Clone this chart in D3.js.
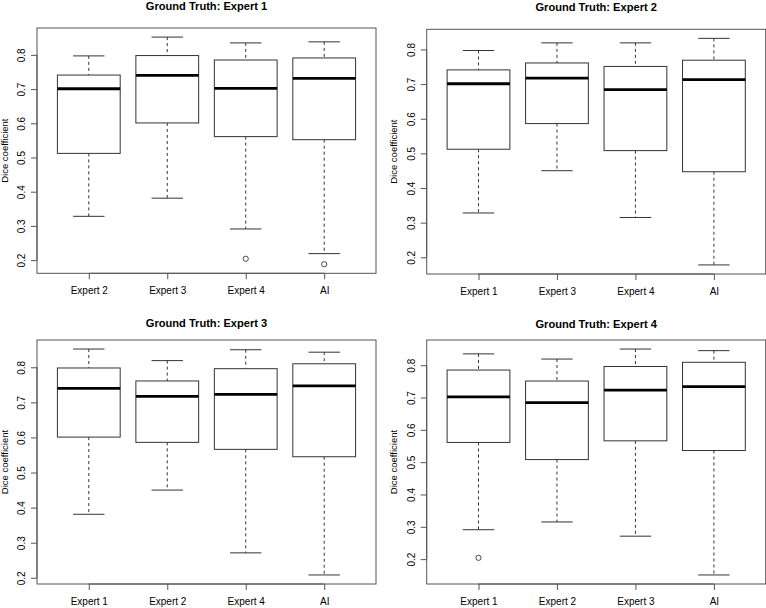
<!DOCTYPE html>
<html>
<head>
<meta charset="utf-8">
<script src="https://cdn.jsdelivr.net/npm/d3@7"></script>
<style>
  html, body { margin: 0; padding: 0; background: #fff; }
  svg { display: block; }
  text { font-family: "Liberation Sans", Arial, Helvetica, sans-serif; fill: #000; }
</style>
</head>
<body>
<svg id="chart" width="766" height="608"></svg>
<script>
// ---------- DATA ----------
const panelTitles = [
  "Ground Truth: Expert 1",
  "Ground Truth: Expert 2",
  "Ground Truth: Expert 3",
  "Ground Truth: Expert 4"
];
const categories = [
  ["Expert 2", "Expert 3", "Expert 4", "AI"],
  ["Expert 1", "Expert 3", "Expert 4", "AI"],
  ["Expert 1", "Expert 2", "Expert 4", "AI"],
  ["Expert 1", "Expert 2", "Expert 3", "AI"]
];
const whiskerHigh = [
  [0.797, 0.852, 0.835, 0.838],
  [0.797, 0.819, 0.819, 0.832],
  [0.852, 0.819, 0.850, 0.843],
  [0.835, 0.819, 0.850, 0.845]
];
const upperQuartile = [
  [0.741, 0.798, 0.785, 0.791],
  [0.741, 0.761, 0.751, 0.769],
  [0.798, 0.761, 0.796, 0.810],
  [0.785, 0.751, 0.796, 0.809]
];
const medians = [
  [0.701, 0.740, 0.702, 0.731],
  [0.701, 0.717, 0.684, 0.713],
  [0.740, 0.717, 0.723, 0.747],
  [0.702, 0.684, 0.723, 0.734]
];
const lowerQuartile = [
  [0.512, 0.601, 0.561, 0.552],
  [0.512, 0.586, 0.508, 0.447],
  [0.601, 0.586, 0.566, 0.545],
  [0.561, 0.508, 0.566, 0.536]
];
const whiskerLow = [
  [0.328, 0.381, 0.291, 0.219],
  [0.328, 0.450, 0.315, 0.178],
  [0.381, 0.450, 0.271, 0.208],
  [0.291, 0.315, 0.271, 0.151]
];
// outliers: [categoryIndex, value]
const outliers = [
  [[2, 0.204], [3, 0.188]],
  [],
  [],
  [[0, 0.204]]
];
const yTickValues = [0.2, 0.3, 0.4, 0.5, 0.6, 0.7, 0.8];
const yAxisLabel = "Dice coefficient";

// ---------- LAYOUT ----------
const layout = [
  { left: 37,    top: 28,   width: 339, height: 245.3, titleY: 9.6 },
  { left: 426.7, top: 29.3, width: 339, height: 244.7, titleY: 10.6 },
  { left: 37,    top: 340,  width: 339, height: 244,   titleY: 327.3 },
  { left: 426.7, top: 340,  width: 339, height: 244,   titleY: 327.8 }
];

const svg = d3.select("#chart");
const lineCol = "#333";
const frameCol = "#555";

layout.forEach((L, p) => {
  const n = categories[p].length;
  // R-style limits: data range extended by 4%
  const allVals = whiskerHigh[p].concat(whiskerLow[p], outliers[p].map(d => d[1]));
  const lo = d3.min(allVals), hi = d3.max(allVals);
  const ext = (hi - lo) * 0.04;
  const y = d3.scaleLinear().domain([lo - ext, hi + ext]).range([L.top + L.height, L.top]);
  const xExt = n * 0.04;
  const x = d3.scaleLinear().domain([0.5 - xExt, n + 0.5 + xExt]).range([L.left, L.left + L.width]);
  const unit = x(2) - x(1);
  const boxW = unit * 0.8;
  const capW = boxW * 0.5;

  const g = svg.append("g");

  // title
  g.append("text")
    .attr("x", L.left + L.width / 2)
    .attr("y", L.titleY)
    .attr("text-anchor", "middle")
    .style("font-weight", "bold")
    .style("font-size", "11.1px")
    .text(panelTitles[p]);

  // boxes
  const idx = d3.range(n);
  const items = idx.map(i => ({
    i: i + 1,
    hi: whiskerHigh[p][i], q3: upperQuartile[p][i], med: medians[p][i],
    q1: lowerQuartile[p][i], lo: whiskerLow[p][i]
  }));

  const bx = g.selectAll("g.box").data(items).join("g").attr("class", "box");
  // dashed whiskers
  bx.append("line")
    .attr("x1", d => x(d.i)).attr("x2", d => x(d.i))
    .attr("y1", d => y(d.hi)).attr("y2", d => y(d.q3))
    .attr("stroke", lineCol).attr("stroke-width", 1).attr("stroke-dasharray", "3,3");
  bx.append("line")
    .attr("x1", d => x(d.i)).attr("x2", d => x(d.i))
    .attr("y1", d => y(d.q1)).attr("y2", d => y(d.lo))
    .attr("stroke", lineCol).attr("stroke-width", 1).attr("stroke-dasharray", "3,3");
  // staples
  bx.append("line")
    .attr("x1", d => x(d.i) - capW / 2).attr("x2", d => x(d.i) + capW / 2)
    .attr("y1", d => y(d.hi)).attr("y2", d => y(d.hi))
    .attr("stroke", lineCol).attr("stroke-width", 1);
  bx.append("line")
    .attr("x1", d => x(d.i) - capW / 2).attr("x2", d => x(d.i) + capW / 2)
    .attr("y1", d => y(d.lo)).attr("y2", d => y(d.lo))
    .attr("stroke", lineCol).attr("stroke-width", 1);
  // box
  bx.append("rect")
    .attr("x", d => x(d.i) - boxW / 2).attr("width", boxW)
    .attr("y", d => y(d.q3)).attr("height", d => y(d.q1) - y(d.q3))
    .attr("fill", "#fff").attr("stroke", lineCol).attr("stroke-width", 1);
  // median
  bx.append("line")
    .attr("x1", d => x(d.i) - boxW / 2).attr("x2", d => x(d.i) + boxW / 2)
    .attr("y1", d => y(d.med)).attr("y2", d => y(d.med))
    .attr("stroke", "#000").attr("stroke-width", 2.8);

  // outliers
  g.selectAll("circle.out").data(outliers[p]).join("circle")
    .attr("class", "out")
    .attr("cx", d => x(d[0] + 1)).attr("cy", d => y(d[1]))
    .attr("r", 2.6).attr("fill", "none").attr("stroke", lineCol).attr("stroke-width", 0.9);

  // frame
  g.append("rect")
    .attr("x", L.left).attr("y", L.top).attr("width", L.width).attr("height", L.height)
    .attr("fill", "none").attr("stroke", frameCol).attr("stroke-width", 1);

  // y axis
  const yAxis = d3.axisLeft(y).tickValues(yTickValues).tickSize(6).tickPadding(3)
    .tickFormat(d3.format(".1f"));
  const ya = g.append("g").attr("transform", `translate(${L.left},0)`).call(yAxis);
  ya.select(".domain").attr("stroke", frameCol)
    .attr("d", `M0,${y(yTickValues[yTickValues.length - 1])}V${y(yTickValues[0])}`);
  ya.selectAll(".tick line").attr("stroke", frameCol);
  ya.selectAll(".tick text")
    .attr("x", 0).attr("dy", null)
    .attr("transform", "translate(-12,0) rotate(-90)")
    .attr("text-anchor", "middle")
    .style("font-size", "10px")
    .style("font-family", "'Liberation Sans', Arial, sans-serif")
    .attr("fill", "#000");
  ya.selectAll(".tick text").attr("y", 0);

  // x axis
  const xAxis = d3.axisBottom(x).tickValues(d3.range(1, n + 1)).tickSize(6).tickPadding(4)
    .tickFormat(d => categories[p][d - 1]);
  const xa = g.append("g").attr("transform", `translate(0,${L.top + L.height})`).call(xAxis);
  xa.select(".domain").attr("stroke", frameCol)
    .attr("d", `M${x(1)},0H${x(n)}`);
  xa.selectAll(".tick line").attr("stroke", frameCol);
  xa.selectAll(".tick text")
    .attr("y", 21).attr("dy", null)
    .style("font-size", "10px")
    .style("font-family", "'Liberation Sans', Arial, sans-serif")
    .attr("fill", "#000");

  // y axis label
  g.append("text")
    .attr("transform", `translate(${L.left - 29.5},${L.top + L.height / 2}) rotate(-90)`)
    .attr("text-anchor", "middle")
    .style("font-size", "9.5px")
    .text(yAxisLabel);
});
</script>
</body>
</html>
